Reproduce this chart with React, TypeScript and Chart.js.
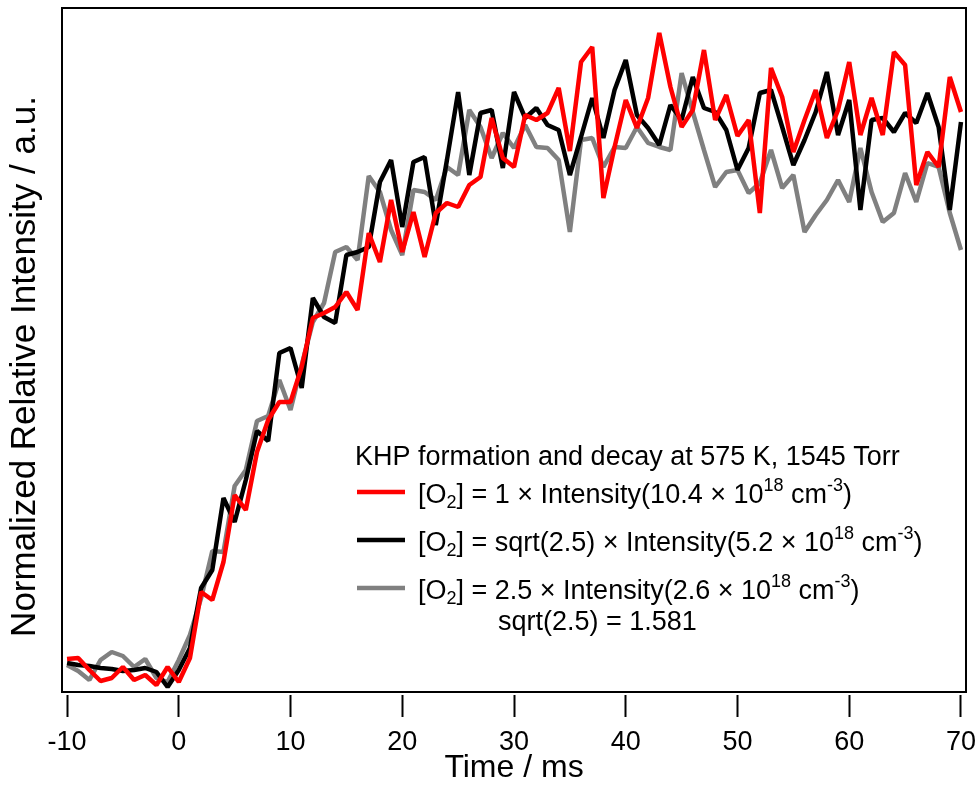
import React, { useEffect, useRef } from "react";
import { Chart, registerables } from "chart.js";

Chart.register(...registerables);

// ---------- data ----------
const timeMs = [
  -10, -9, -8, -7, -6, -5, -4, -3, -2, -1, 0, 1, 2, 3, 4, 5, 6, 7, 8, 9,
  10, 11, 12, 13, 14, 15, 16, 17, 18, 19, 20, 21, 22, 23, 24, 25, 26, 27, 28, 29,
  30, 31, 32, 33, 34, 35, 36, 37, 38, 39, 40, 41, 42, 43, 44, 45, 46, 47, 48, 49,
  50, 51, 52, 53, 54, 55, 56, 57, 58, 59, 60, 61, 62, 63, 64, 65, 66, 67, 68, 69, 70,
];

// [O2] = 1 x Intensity (10.4e18 cm^-3)
const redIntensity = [
  0.022, 0.024, 0.0, -0.022, -0.016, 0.006, -0.02, -0.01, -0.03, 0.006,
  -0.024, 0.024, 0.156, 0.14, 0.216, 0.35, 0.32, 0.436, 0.5, 0.536,
  0.536, 0.606, 0.704, 0.714, 0.726, 0.756, 0.72, 0.874, 0.816, 0.94,
  0.836, 0.916, 0.826, 0.914, 0.934, 0.926, 0.97, 0.986, 1.104, 1.024,
  1.006, 1.11, 1.1, 1.114, 1.164, 1.038, 1.216, 1.246, 0.944, 1.046,
  1.14, 1.084, 1.144, 1.274, 1.166, 1.086, 1.12, 1.24, 1.1, 1.15,
  1.068, 1.1, 0.914, 1.204, 1.146, 1.036, 1.1, 1.16, 1.064, 1.12,
  1.216, 1.07, 1.144, 1.07, 1.236, 1.21, 0.97, 1.036, 1.006, 1.186, 1.116,
];

// [O2] = sqrt(2.5) x Intensity (5.2e18 cm^-3)
const blackIntensity = [
  0.014, 0.01, 0.008, 0.004, 0.002, -0.002, 0.0, 0.004, -0.004, -0.034,
  0.0, 0.044, 0.164, 0.2, 0.344, 0.296, 0.38, 0.478, 0.458, 0.634,
  0.644, 0.564, 0.744, 0.706, 0.694, 0.83, 0.836, 0.846, 0.976, 1.02,
  0.886, 1.016, 1.026, 0.89, 1.02, 1.156, 0.99, 1.114, 1.12, 1.004,
  1.156, 1.104, 1.124, 1.09, 1.08, 0.99, 1.066, 1.144, 1.064, 1.16,
  1.22, 1.11, 1.084, 1.05, 1.13, 1.1, 1.186, 1.124, 1.116, 1.08,
  1.0, 1.044, 1.154, 1.16, 1.086, 1.01, 1.06, 1.116, 1.196, 1.07,
  1.14, 0.92, 1.1, 1.104, 1.076, 1.114, 1.094, 1.154, 1.086, 0.92, 1.096,
];

// [O2] = 2.5 x Intensity (2.6e18 cm^-3)
const grayIntensity = [
  0.01, -0.002, -0.02, 0.02, 0.036, 0.028, 0.006, 0.022, -0.016, -0.024,
  0.02, 0.07, 0.144, 0.238, 0.236, 0.368, 0.4, 0.498, 0.508, 0.58,
  0.52, 0.61, 0.696, 0.734, 0.836, 0.846, 0.82, 0.988, 0.956, 0.88,
  0.83, 0.96, 0.956, 0.94, 1.006, 0.99, 1.12, 1.086, 1.024, 1.074,
  1.044, 1.09, 1.046, 1.044, 1.02, 0.876, 1.06, 1.064, 1.006, 1.046,
  1.044, 1.086, 1.054, 1.046, 1.04, 1.194, 1.116, 1.04, 0.966, 0.996,
  1.0, 0.954, 0.974, 1.04, 0.964, 0.99, 0.876, 0.91, 0.94, 0.98,
  0.936, 1.044, 0.956, 0.896, 0.914, 0.994, 0.936, 1.014, 1.006, 0.914, 0.84,
];

const xTickValues = [-10, 0, 10, 20, 30, 40, 50, 60, 70];
const xTitle = "Time / ms";
const yTitle = "Normalized Relative Intensity / a.u.";
const legendTitle = "KHP formation and decay at 575 K, 1545 Torr";
const seriesFactors = ["1", "sqrt(2.5)", "2.5"];
const seriesConcentrations = ["10.4", "5.2", "2.6"];
const legendNote = "sqrt(2.5) = 1.581";

// ---------- drawing helpers ----------
const FONT = '"Liberation Sans", Arial, Helvetica, sans-serif';

type Seg = { t: string; mode?: "sup" | "sub" };

function drawRich(ctx: CanvasRenderingContext2D, x: number, y: number, segs: Seg[], size: number) {
  let cx = x;
  for (const s of segs) {
    const fs = s.mode ? Math.round(size * 0.66) : size;
    ctx.font = `${fs}px ${FONT}`;
    const dy = s.mode === "sup" ? -size * 0.45 : s.mode === "sub" ? size * 0.2 : 0;
    ctx.fillText(s.t, cx, y + dy);
    cx += ctx.measureText(s.t).width;
  }
}

const framePlugin = {
  id: "frameBox",
  afterDatasetsDraw(chart: any) {
    const { ctx, chartArea: a } = chart;
    ctx.save();
    ctx.strokeStyle = "#000";
    ctx.lineWidth = 2;
    ctx.strokeRect(a.left, a.top, a.right - a.left, a.bottom - 3 - a.top);
    ctx.restore();
  },
};

// y-axis title, drawn slightly below the centre of the plot like the original
const yTitlePlugin = {
  id: "yTitle",
  afterDraw(chart: any) {
    const { ctx, chartArea: a } = chart;
    ctx.save();
    ctx.translate(25, (a.top + a.bottom) / 2 + 15);
    ctx.rotate(-Math.PI / 2);
    ctx.fillStyle = "#000";
    ctx.textAlign = "center";
    ctx.textBaseline = "middle";
    ctx.font = `35px ${FONT}`;
    ctx.fillText(yTitle, 0, 0);
    ctx.restore();
  },
};

const legendPlugin = {
  id: "richLegend",
  afterDraw(chart: any) {
    const { ctx, chartArea: a } = chart;
    const size = 27;
    const x0 = a.left + 293;
    ctx.save();
    ctx.fillStyle = "#000";
    ctx.textBaseline = "alphabetic";
    ctx.textAlign = "left";
    ctx.font = `${size}px ${FONT}`;
    ctx.fillText(legendTitle, x0, a.top + 457);
    chart.data.datasets.forEach((ds: any, i: number) => {
      const ly = a.top + 484 + i * 48;
      ctx.strokeStyle = ds.borderColor;
      ctx.lineWidth = 4.5;
      ctx.beginPath();
      ctx.moveTo(x0 + 2, ly);
      ctx.lineTo(x0 + 50, ly);
      ctx.stroke();
      ctx.fillStyle = "#000";
      drawRich(
        ctx,
        x0 + 63,
        ly + 11,
        [
          { t: "[O" },
          { t: "2", mode: "sub" },
          { t: `] = ${seriesFactors[i]} \u00d7 Intensity(${seriesConcentrations[i]} \u00d7 10` },
          { t: "18", mode: "sup" },
          { t: " cm" },
          { t: "-3", mode: "sup" },
          { t: ")" },
        ],
        size
      );
    });
    ctx.font = `${size}px ${FONT}`;
    ctx.fillStyle = "#000";
    ctx.fillText(legendNote, x0 + 143, a.top + 622);
    ctx.restore();
  },
};

export default function App() {
  const ref = useRef<HTMLCanvasElement | null>(null);

  useEffect(() => {
    if (!ref.current) return;
    const mk = (arr: number[]) => timeMs.map((t, i) => ({ x: t, y: arr[i] }));
    const lineStyle = {
      borderWidth: 4.5,
      pointRadius: 0,
      tension: 0,
      fill: false,
      borderJoinStyle: "bevel" as const,
    };
    const chart = new Chart(ref.current, {
      type: "line",
      data: {
        datasets: [
          { label: "red", data: mk(redIntensity), borderColor: "#ff0000", ...lineStyle },
          { label: "black", data: mk(blackIntensity), borderColor: "#000000", ...lineStyle },
          { label: "gray", data: mk(grayIntensity), borderColor: "#808080", ...lineStyle },
        ],
      },
      options: {
        animation: false,
        responsive: false,
        devicePixelRatio: 1,
        events: [],
        layout: { padding: { left: 0, right: 11, top: 8, bottom: 0 } },
        plugins: { legend: { display: false }, tooltip: { enabled: false } },
        scales: {
          x: {
            type: "linear",
            position: "bottom",
            min: -10.45,
            max: 70.45,
            afterBuildTicks: (s: any) => {
              s.ticks = xTickValues.map((v) => ({ value: v }));
            },
            afterFit: (s: any) => {
              s.height = 90;
              s.paddingLeft = 0;
              s.paddingRight = 0;
            },
            border: { display: false },
            grid: {
              display: true,
              drawOnChartArea: false,
              drawTicks: true,
              tickLength: 22,
              tickWidth: 2,
              tickColor: "#000",
            },
            ticks: {
              autoSkip: false,
              maxRotation: 0,
              minRotation: 0,
              padding: 9,
              color: "#000",
              font: { family: FONT, size: 27 },
              callback: (v: any) => String(v),
            },
            title: {
              display: true,
              text: xTitle,
              color: "#000",
              font: { family: FONT, size: 32, lineHeight: 1 },
              padding: { top: 0, bottom: 1 },
            },
          },
          y: {
            type: "linear",
            position: "left",
            min: -0.05,
            max: 1.324,
            afterFit: (s: any) => {
              s.width = 62;
              s.paddingTop = 0;
              s.paddingBottom = 0;
            },
            border: { display: false },
            grid: { display: false },
            ticks: { display: false },
            title: { display: false },
          },
        },
      },
      plugins: [framePlugin, yTitlePlugin, legendPlugin],
    });
    return () => chart.destroy();
  }, []);

  return (
    <div style={{ position: "fixed", left: 0, top: 0, width: 977, height: 785, background: "#fff" }}>
      <canvas ref={ref} width={977} height={785} style={{ display: "block" }} />
    </div>
  );
}
